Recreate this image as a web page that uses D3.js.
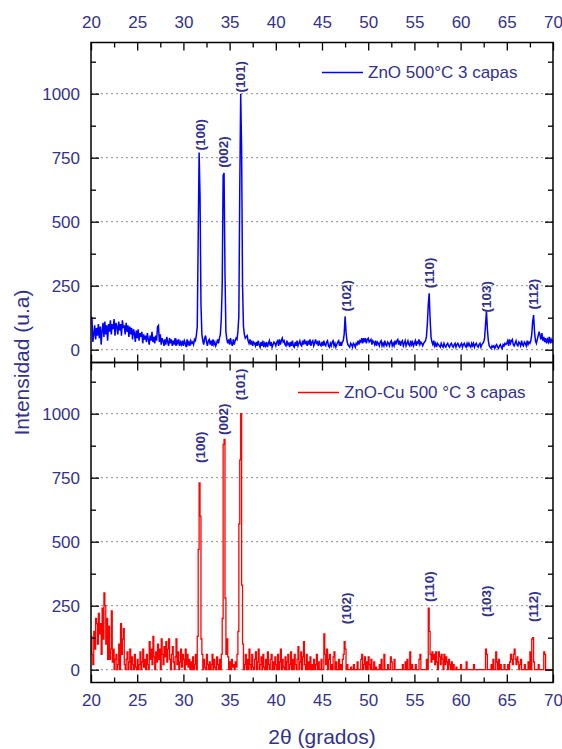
<!DOCTYPE html>
<html>
<head>
<meta charset="utf-8">
<script src="https://cdn.jsdelivr.net/npm/d3@7/dist/d3.min.js"></script>
<style>
  body { margin: 0; background: #fff; }
  svg { display: block; font-family: "Liberation Sans", Arial, sans-serif; }
</style>
</head>
<body>
<div id="chart"></div>
<script>
// 2theta grid of the scans
const thetaStart = 20, thetaStep = 0.1;

// ZnO 500°C 3 capas (blue), one row per degree, 20.0 .. 70.0
const zno = [
  128, 125, 30, 60, 95, 40, 85, 55, 100, 45,
  90, 20, 75, 105, 50, 110, 60, 95, 35, 100,
  70, 115, 60, 100, 80, 120, 55, 105, 90, 60,
  110, 75, 100, 55, 115, 85, 95, 60, 105, 70,
  95, 50, 90, 60, 85, 40, 80, 65, 30, 75,
  45, 80, 35, 65, 50, 70, 25, 60, 40, 55,
  30, 65, 40, 20, 55, 35, 70, 30, 50, 25,
  55, 35, 90, 95, 30, 60, 20, 45, 35, 15,
  40, 20, 50, 30, 15, 45, 25, 40, 15, 35,
  20, 45, 15, 35, 25, 40, 15, 30, 20, 35,
  15, 35, 25, 10, 40, 20, 30, 15, 35, 25,
  30, 20, 40, 35, 55, 90, 430, 770, 600, 180,
  60, 35, 20, 45, 55, 30, 15, 35, 40, 20,
  35, 15, 40, 20, 30, 15, 25, 40, 25, 45,
  60, 120, 250, 680, 690, 300, 70, 40, 25, 40,
  20, 45, 25, 15, 40, 20, 35, 45, 40, 70,
  130, 620, 1000, 780, 250, 90, 60, 45, 50, 55,
  35, 25, 40, 20, 35, 15, 30, 25, 15, 30,
  15, 35, 20, 10, 30, 15, 35, 10, 25, 15,
  30, 10, 25, 35, 15, 30, 10, 20, 30, 25,
  15, 30, 35, 15, 40, 20, 35, 45, 30, 35,
  20, 15, 35, 20, 25, 10, 30, 15, 35, 15,
  10, 30, 15, 35, 15, 25, 35, 20, 15, 35,
  20, 40, 25, 30, 15, 35, 20, 40, 15, 30,
  35, 15, 25, 40, 25, 30, 15, 35, 20, 15,
  30, 15, 35, 20, 15, 30, 35, 15, 10, 25,
  15, 30, 35, 15, 25, 10, 20, 30, 35, 15,
  30, 15, 30, 35, 60, 130, 70, 35, 20, 15,
  10, 25, 20, 10, 25, 20, 10, 25, 20, 35,
  20, 35, 30, 45, 25, 45, 30, 45, 25, 40,
  45, 30, 35, 40, 20, 35, 30, 20, 35, 15,
  30, 25, 15, 30, 35, 15, 25, 15, 35, 20,
  15, 30, 25, 15, 30, 35, 15, 25, 15, 35,
  20, 35, 40, 20, 35, 15, 30, 35, 15, 25,
  35, 15, 25, 35, 20, 15, 35, 20, 30, 15,
  25, 35, 15, 30, 25, 40, 20, 30, 25, 15,
  25, 30, 35, 50, 100, 175, 220, 120, 50, 30,
  20, 35, 15, 25, 10, 25, 20, 15, 10, 25,
  15, 10, 25, 15, 10, 20, 25, 15, 10, 20,
  25, 15, 10, 20, 25, 10, 20, 25, 15, 10,
  20, 25, 10, 20, 25, 15, 10, 25, 15, 25,
  15, 10, 25, 15, 25, 10, 20, 25, 15, 10,
  20, 25, 10, 20, 25, 30, 45, 100, 150, 80,
  35, 15, 10, 5, 15, 10, 15, 5, 15, 20,
  10, 5, 15, 20, 10, 5, 20, 15, 25, 20,
  25, 35, 15, 40, 25, 35, 40, 20, 15, 25,
  35, 20, 15, 30, 25, 15, 35, 20, 15, 30,
  25, 15, 35, 20, 30, 25, 35, 60, 110, 135,
  70, 35, 25, 40, 55, 70, 55, 40, 65, 35,
  50, 30, 45, 25, 40, 30, 50, 25, 40, 30,
  40
];

// ZnO-Cu 500 °C 3 capas (red)
const znoCu = [
  130, 60, 20, 150, 80, 200, 180, 100, 220, 140,
  180, 60, 240, 120, 300, 250, 100, 200, 40, 170,
  40, 80, 230, 30, 80, 0, 40, 60, 0, 20,
  100, 0, 180, 60, 120, 160, 20, 0, 40, 70,
  0, 30, 80, 0, 50, 20, 0, 60, 10, 0,
  40, 0, 20, 70, 0, 30, 80, 10, 40, 0,
  60, 20, 0, 110, 40, 80, 20, 130, 50, 0,
  70, 30, 100, 40, 80, 0, 120, 60, 20, 90,
  50, 110, 30, 80, 120, 40, 0, 60, 90, 30,
  0, 50, 120, 20, 70, 0, 30, 80, 10, 60,
  40, 0, 80, 20, 60, 10, 40, 0, 30, 0,
  50, 0, 20, 60, 0, 130, 470, 730, 600, 120,
  60, 0, 40, 10, 0, 60, 20, 0, 30, 0,
  20, 60, 0, 40, 10, 0, 50, 20, 0, 40,
  0, 60, 200, 880, 900, 280, 60, 120, 50, 0,
  30, 0, 40, 10, 20, 0, 30, 10, 60, 150,
  570, 820, 1000, 330, 100, 0, 20, 60, 0, 40,
  0, 80, 20, 0, 60, 10, 0, 40, 70, 0,
  30, 80, 0, 20, 50, 0, 60, 10, 0, 40,
  0, 70, 20, 0, 40, 60, 0, 30, 0, 50,
  20, 0, 60, 0, 30, 80, 0, 40, 10, 0,
  50, 0, 30, 60, 0, 20, 70, 0, 40, 0,
  60, 20, 0, 40, 90, 0, 30, 70, 0, 50,
  110, 20, 0, 60, 0, 30, 0, 50, 0, 20,
  0, 40, 0, 20, 60, 0, 30, 0, 0, 40,
  0, 0, 140, 60, 20, 80, 0, 40, 60, 0,
  20, 0, 50, 70, 0, 30, 0, 0, 40, 0,
  20, 0, 40, 60, 110, 80, 0, 20, 0, 0,
  0, 10, 0, 0, 20, 0, 0, 0, 30, 0,
  0, 0, 40, 60, 0, 20, 50, 0, 30, 0,
  50, 20, 0, 40, 0, 0, 30, 0, 10, 0,
  0, 0, 20, 0, 40, 0, 0, 60, 0, 0,
  0, 20, 0, 0, 50, 30, 0, 0, 40, 0,
  0, 0, 0, 0, 0, 0, 0, 20, 0, 0,
  30, 0, 40, 0, 0, 70, 0, 20, 0, 0,
  0, 20, 0, 0, 0, 40, 60, 0, 0, 0,
  0, 0, 0, 40, 0, 240, 150, 60, 30, 70,
  40, 60, 20, 70, 30, 0, 70, 50, 20, 60,
  40, 0, 60, 20, 50, 30, 0, 40, 20, 0,
  30, 0, 20, 0, 0, 10, 0, 0, 0, 0,
  20, 0, 0, 0, 0, 0, 30, 0, 0, 0,
  0, 0, 0, 0, 20, 0, 0, 0, 0, 0,
  0, 0, 0, 0, 0, 0, 0, 80, 60, 0,
  0, 0, 0, 20, 0, 40, 0, 0, 70, 30,
  0, 40, 0, 20, 0, 0, 0, 20, 0, 0,
  0, 20, 0, 30, 60, 40, 20, 60, 80, 40,
  20, 50, 30, 0, 20, 40, 0, 0, 0, 20,
  0, 0, 0, 30, 0, 70, 0, 120, 125, 30,
  0, 0, 0, 0, 20, 0, 0, 0, 0, 0,
  70, 60, 0, 0, 0, 0, 0, 0, 0, 0,
  0
];

// peak indexing
const peakLabels = ["(100)", "(002)", "(101)", "(102)", "(110)", "(103)", "(112)"];
const peakTheta  = [31.8, 34.3, 36.2, 47.6, 56.6, 62.75, 67.85];
const labelAtZno   = [778, 711, 1005, 149, 240, 145, 157];
const labelAtZnoCu = [807, 917, 1053, 178, 264, 206, 186];

const xTicks = [20, 25, 30, 35, 40, 45, 50, 55, 60, 65, 70];
const xMinor = [22.5, 27.5, 32.5, 37.5, 42.5, 47.5, 52.5, 57.5, 62.5, 67.5];
const yTicks = [0, 250, 500, 750, 1000];
const yMinor = [125, 375, 625, 875, 1125];

const width = 562, height = 749;
const left = 91, right = 553;
const panelH = 320;
const panels = [
  { top: 42.5, data: zno, color: "#0000ff", lw: 1.5, curve: d3.curveLinear, labelAt: labelAtZno,
    legend: "ZnO 500°C 3 capas", legX: 322, legY: 30, xLabels: "top" },
  { top: 362.5, data: znoCu, color: "#ff0000", lw: 1.3, curve: d3.curveStepAfter, labelAt: labelAtZnoCu,
    legend: "ZnO-Cu 500 °C 3 capas", legX: 298, legY: 30, xLabels: "bottom" }
];

const navy = "#32328c";

const svg = d3.select("#chart").append("svg")
    .attr("width", width)
    .attr("height", height);

svg.append("rect").attr("width", width).attr("height", height).attr("fill", "#fff");

const x = d3.scaleLinear().domain([20, 70]).range([left, right]);

panels.forEach((p, k) => {
    const y = d3.scaleLinear().domain([-50, 1200]).range([p.top + panelH, p.top]);
    const g = svg.append("g");

    // dotted grid
    g.selectAll("line.grid").data(yTicks).enter().append("line")
        .attr("class", "grid")
        .attr("x1", left).attr("x2", right)
        .attr("y1", d => y(d)).attr("y2", d => y(d))
        .attr("stroke", "#8a8a8a").attr("stroke-width", 1)
        .attr("stroke-dasharray", "2,3");

    const clipId = "clip" + k;
    svg.append("clipPath").attr("id", clipId).append("rect")
        .attr("x", left).attr("y", p.top).attr("width", right - left).attr("height", panelH);

    const line = d3.line()
        .x((d, i) => x(thetaStart + i * thetaStep))
        .y(d => y(d))
        .curve(p.curve);

    g.append("path")
        .datum(p.data)
        .attr("clip-path", `url(#${clipId})`)
        .attr("fill", "none")
        .attr("stroke", p.color)
        .attr("stroke-width", p.lw)
        .attr("d", line);

    // axes, ticks pointing inward
    const axes = [
        [d3.axisLeft(y), left, 0, "left"],
        [d3.axisRight(y), right, 0, "right"],
        [d3.axisTop(x), 0, p.top, "top"],
        [d3.axisBottom(x), 0, p.top + panelH, "bottom"]
    ];
    axes.forEach(([ax, tx, ty, side]) => {
        const vertical = side == "left" || side == "right";
        const major = ax.tickValues(vertical ? yTicks : xTicks).tickSizeInner(-8).tickSizeOuter(0)
            .tickFormat(d3.format("d"));
        const showLabels = side == "left" || side == p.xLabels;
        if (!showLabels) major.tickFormat("");
        if (side == "left") major.tickPadding(11);
        if (side == "top") major.tickPadding(15);
        if (side == "bottom") major.tickPadding(11);
        const a = g.append("g").attr("transform", `translate(${tx},${ty})`).call(major);
        a.select(".domain").remove();
        a.selectAll("line").attr("stroke", "#000").attr("stroke-width", 1.3);
        a.selectAll("text").attr("fill", navy).style("font-size", "17px")
            .style("font-family", "'Liberation Sans', Arial, sans-serif");

        const minorAx = (side == "left" ? d3.axisLeft(y) : side == "right" ? d3.axisRight(y)
                        : side == "top" ? d3.axisTop(x) : d3.axisBottom(x))
            .tickValues(vertical ? yMinor : xMinor).tickSizeInner(-5).tickSizeOuter(0).tickFormat("");
        const m = g.append("g").attr("transform", `translate(${tx},${ty})`).call(minorAx);
        m.select(".domain").remove();
        m.selectAll("line").attr("stroke", "#000").attr("stroke-width", 1.3);
    });

    g.append("rect")
        .attr("x", left).attr("y", p.top)
        .attr("width", right - left).attr("height", panelH)
        .attr("fill", "none").attr("stroke", "#000").attr("stroke-width", 1.5);

    // peak labels
    g.selectAll("text.peak").data(peakLabels).enter().append("text")
        .attr("class", "peak")
        .attr("transform", (d, i) => `translate(${x(peakTheta[i])},${y(p.labelAt[i])}) rotate(-90)`)
        .attr("dy", "0.35em")
        .attr("fill", navy)
        .style("font-size", "13.5px")
        .style("font-weight", "bold")
        .text(d => d);

    // legend
    const leg = g.append("g").attr("transform", `translate(${p.legX},${p.top + p.legY})`);
    leg.append("line").attr("x1", 0).attr("x2", 41).attr("y1", 0).attr("y2", 0)
        .attr("stroke", p.color).attr("stroke-width", 1.3);
    leg.append("text").attr("x", 46).attr("dy", "0.35em")
        .attr("fill", navy).style("font-size", "17px").text(p.legend);
});

// axis titles
svg.append("text")
    .attr("transform", `translate(22,${(42.5 + 682.5) / 2}) rotate(-90)`)
    .attr("text-anchor", "middle").attr("dy", "0.35em")
    .attr("fill", navy).style("font-size", "21px")
    .text("Intensidad (u.a)");

svg.append("text")
    .attr("x", (left + right) / 2).attr("y", 744)
    .attr("text-anchor", "middle")
    .attr("fill", navy).style("font-size", "21px")
    .text("2θ (grados)");
</script>
</body>
</html>
